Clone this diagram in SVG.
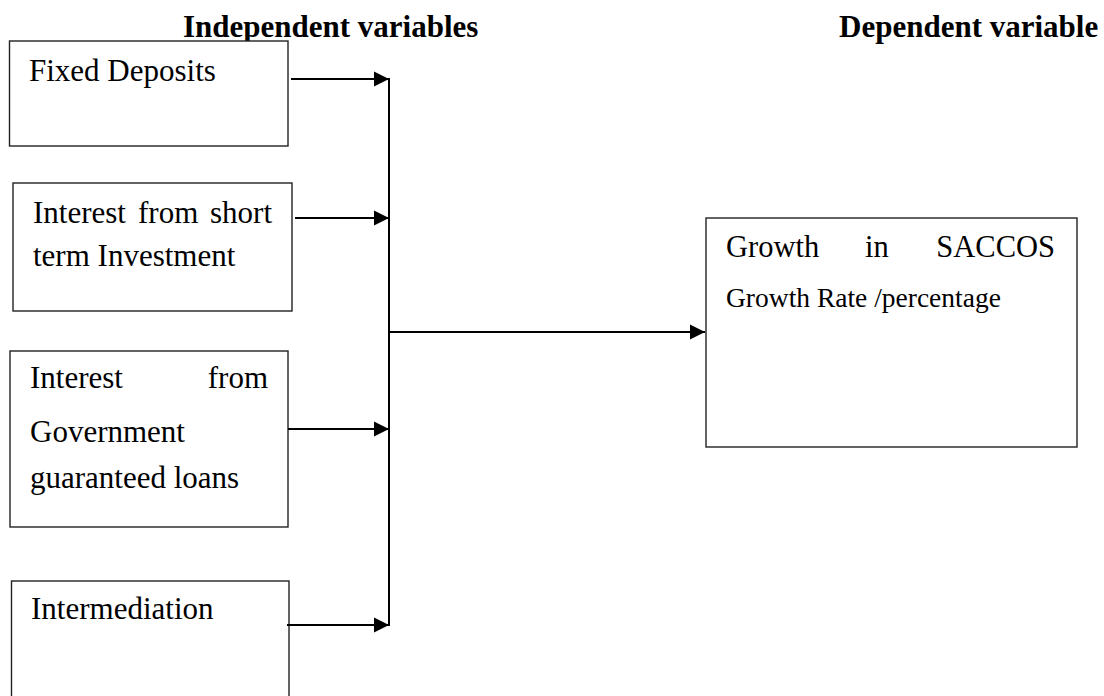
<svg xmlns="http://www.w3.org/2000/svg" width="1104" height="696" viewBox="0 0 1104 696">
<style>
.box{fill:#fff;stroke:#222;stroke-width:1.4}
.t{font-family:"Liberation Serif","Times New Roman",serif;font-size:31px;fill:#000}
.s{font-size:27.5px}
.h{font-family:"Liberation Serif","Times New Roman",serif;font-size:31px;font-weight:bold;fill:#000}
.c{fill:none;stroke:#000;stroke-width:2}
</style>
<defs>
<marker id="arr" markerUnits="userSpaceOnUse" markerWidth="16" markerHeight="16" refX="15" refY="7.5" orient="auto" viewBox="0 0 16 15">
<path d="M0,0 L15,7.5 L0,15 Z" fill="#000"/>
</marker>
</defs>
<rect width="1104" height="696" fill="#fff"/>
<text class="h" x="183" y="37">Independent variables</text>
<text class="h" x="839" y="37">Dependent variable</text>
<g id="fixed-deposits">
<rect class="box" x="9.5" y="41" width="278.5" height="105"/>
<text class="t" x="29" y="81">Fixed Deposits</text>
</g>
<g id="short-term">
<rect class="box" x="13" y="183" width="279" height="128"/>
<text class="t" y="223"><tspan x="33">Interest</tspan><tspan x="138">from</tspan><tspan x="272" text-anchor="end">short</tspan></text>
<text class="t" x="33" y="266">term Investment</text>
</g>
<g id="gov-loans">
<rect class="box" x="10" y="351" width="278" height="176"/>
<text class="t" y="388"><tspan x="30">Interest</tspan><tspan x="268" text-anchor="end">from</tspan></text>
<text class="t" x="30" y="442">Government</text>
<text class="t" x="30" y="488">guaranteed loans</text>
</g>
<g id="intermediation">
<rect class="box" x="11.5" y="581" width="277.5" height="130"/>
<text class="t" x="31" y="619">Intermediation</text>
</g>
<g id="growth">
<rect class="box" x="706" y="218" width="371" height="229"/>
<text class="t" y="257" style="font-size:30.5px"><tspan x="726">Growth</tspan><tspan x="865">in</tspan><tspan x="1055" text-anchor="end">SACCOS</tspan></text>
<text class="t s" x="726" y="307">Growth Rate /percentage</text>
</g>
<g id="connectors">
<line class="c" x1="291" y1="79" x2="389" y2="79" marker-end="url(#arr)"/>
<line class="c" x1="295" y1="218" x2="389" y2="218" marker-end="url(#arr)"/>
<line class="c" x1="288" y1="429" x2="389" y2="429" marker-end="url(#arr)"/>
<line class="c" x1="287" y1="625" x2="389" y2="625" marker-end="url(#arr)"/>
<line class="c" x1="389" y1="78" x2="389" y2="626"/>
<line class="c" x1="389" y1="332" x2="705" y2="332" marker-end="url(#arr)"/>
</g>
</svg>
